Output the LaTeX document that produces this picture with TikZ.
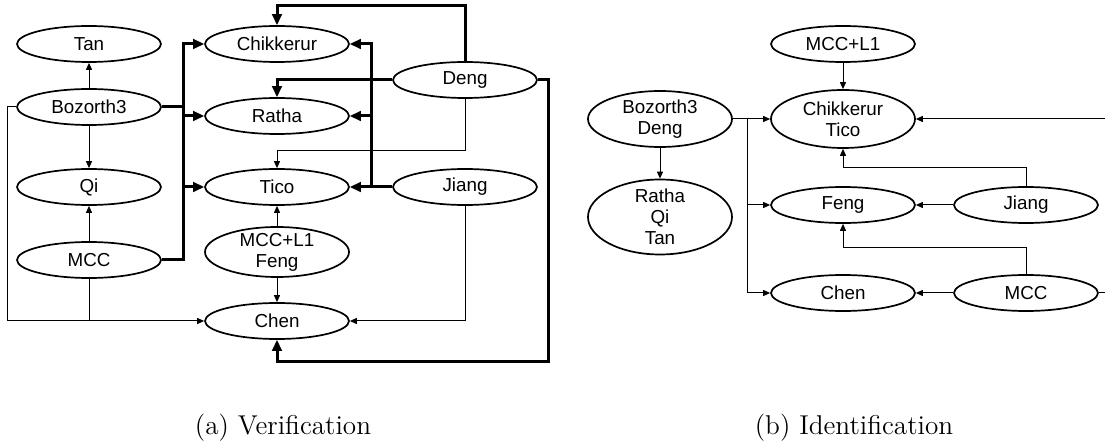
\documentclass[tikz,border=0pt]{standalone}
\usepackage{fontspec}
\newfontfamily\nodefont{Liberation Sans}
\usetikzlibrary{shapes.geometric,arrows.meta}
\tikzset{
  ell/.style={draw, ellipse, fill=white, line width=0.85pt, minimum width=72pt, minimum height=18pt, inner sep=0pt},
  lbl/.style={font=\nodefont\fontsize{9.4}{10.5}\selectfont, align=center, inner sep=0pt},
  thinarr/.style={line width=0.5pt, -{Triangle[length=3.5pt,width=3pt]}},
  thinline/.style={line width=0.5pt},
  thkarr/.style={line width=1.5pt, -{Triangle[length=5.5pt,width=4.8pt]}},
  thkline/.style={line width=1.5pt},
  captext/.style={font=\fontsize{13.6}{15}\selectfont, inner sep=0pt}
}
\begin{document}
\begin{tikzpicture}[x=0.5pt,y=-0.5pt]
\useasboundingbox (0,0) rectangle (1105,443);

% ---------- (a) Verification ----------
\node[ell] (tan) at (89,44) {};      \node[lbl] (tan-t) at (tan) {Tan};
\node[ell] (boz) at (89,107) {};     \node[lbl] (boz-t) at (boz) {Bozorth3};
\node[ell] (qi) at (89,187) {};      \node[lbl] (qi-t) at (qi) {Qi};
\node[ell] (mcc) at (89,260) {};     \node[lbl] (mcc-t) at (mcc) {MCC};
\node[ell] (chik) at (277,44) {};    \node[lbl] (chik-t) at (chik) {Chikkerur};
\node[ell] (ratha) at (277,116) {};  \node[lbl] (ratha-t) at (ratha) {Ratha};
\node[ell] (tico) at (277,187) {};   \node[lbl] (tico-t) at (tico) {Tico};
\node[ell, minimum height=25pt] (mccf) at (277,252) {}; \node[lbl] (mccf-t) at (mccf) {MCC+L1\\Feng};
\node[ell] (chen) at (277,321) {};   \node[lbl] (chen-t) at (chen) {Chen};
\node[ell] (deng) at (465,80) {};    \node[lbl] (deng-t) at (deng) {Deng};
\node[ell] (jiang) at (465,187) {};  \node[lbl] (jiang-t) at (jiang) {Jiang};

\coordinate (b1) at (183,44);
\coordinate (b2) at (183,116);
\coordinate (b3) at (183,187);
\coordinate (b0) at (183,107);
\coordinate (l1) at (7,107);
\coordinate (l2) at (7,321);
\coordinate (m1) at (89,321);
\coordinate (j1) at (465,321);
\coordinate (c1) at (371,44);
\coordinate (c2) at (371,116);
\coordinate (dA) at (465,6);
\coordinate (dB) at (277,6);
\coordinate (dC) at (277,80);
\coordinate (dD) at (465,151);
\coordinate (dE) at (277,151);
\coordinate (dF) at (548,80);
\coordinate (dG) at (548,362);
\coordinate (dH) at (277,362);

\draw[thinarr] (boz) -- (tan);
\draw[thinarr] (boz) -- (qi);
\draw[thinarr] (mcc) -- (qi);
\draw[thinarr] (boz.west) -- (l1) -- (l2) -- (chen.west);
\draw[thinline] (mcc.south) -- (m1);
\draw[thkline] (boz.east) -- (b0);
\draw[thkarr] (mcc.east) -| (b1) -- (chik.west);
\draw[thkarr] (b2) -- (ratha.west);
\draw[thkarr] (b3) -- (tico.west);
\draw[thinarr] (mccf) -- (tico);
\draw[thinarr] (mccf) -- (chen);
\draw[thinarr] (jiang.south) -- (j1) -- (chen.east);
\draw[thkarr] (jiang.west) -- (tico.east);
\draw[thkarr] (jiang.west) -| (c1) -- (chik.east);
\draw[thkarr] (c2) -- (ratha.east);
\draw[thkarr] (deng.north) -- (dA) -- (dB) -- (chik.north);
\draw[thkarr] (deng.west) -- (dC) -- (ratha.north);
\draw[thinarr] (deng.south) -- (dD) -- (dE) -- (tico.north);
\draw[thkarr] (deng.east) -- (dF) -- (dG) -- (dH) -- (chen.south);

% ---------- (b) Identification ----------
\node[ell] (rmccl) at (843,44) {};   \node[lbl] (rmccl-t) at (rmccl) {MCC+L1};
\node[ell, minimum height=29pt] (rchik) at (843,119) {}; \node[lbl] (rchik-t) at (rchik) {Chikkerur\\Tico};
\node[ell, minimum height=28pt] (rboz) at (660,119) {};  \node[lbl] (rboz-t) at (rboz) {Bozorth3\\Deng};
\node[ell, minimum height=37.5pt] (rrqt) at (660,217) {}; \node[lbl] (rrqt-t) at (rrqt) {Ratha\\Qi\\Tan};
\node[ell] (rfeng) at (843,205) {};  \node[lbl] (rfeng-t) at (rfeng) {Feng};
\node[ell] (rjiang) at (1026,205) {}; \node[lbl] (rjiang-t) at (rjiang) {Jiang};
\node[ell] (rchen) at (843,293) {};  \node[lbl] (rchen-t) at (rchen) {Chen};
\node[ell] (rmcc) at (1026,293) {};  \node[lbl] (rmcc-t) at (rmcc) {MCC};

\coordinate (r1) at (747,119);
\coordinate (r2) at (747,205);
\coordinate (r3) at (747,293);
\coordinate (rj1) at (1026,168);
\coordinate (rj2) at (843,168);
\coordinate (rm1) at (1026,248);
\coordinate (rm2) at (843,248);
\coordinate (re1) at (1105,293);
\coordinate (re2) at (1105,119);

\draw[thinarr] (rmccl) -- (rchik);
\draw[thinarr] (rboz.east) -- (rchik.west);
\draw[thinarr] (r1) -- (r2) -- (rfeng.west);
\draw[thinarr] (r2) -- (r3) -- (rchen.west);
\draw[thinarr] (rboz) -- (rrqt);
\draw[thinarr] (rjiang) -- (rfeng);
\draw[thinarr] (rjiang.north) -- (rj1) -- (rj2) -- (rchik.south);
\draw[thinarr] (rmcc) -- (rchen);
\draw[thinarr] (rmcc.north) -- (rm1) -- (rm2) -- (rfeng.south);
\draw[thinline] (rmcc.east) -- (re1);
\draw[thinarr] (re2) -- (rchik.east);

% captions
\node[captext] (capa) at (283,428) {(a) Verification};
\node[captext] (capb) at (854,428) {(b) Identification};
\end{tikzpicture}
\end{document}
